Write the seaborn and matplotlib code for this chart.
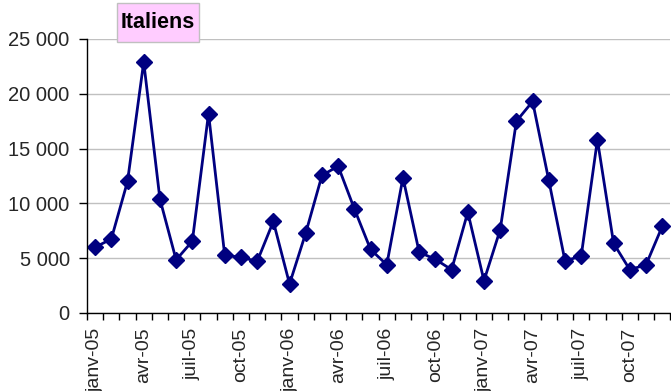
import matplotlib
matplotlib.use("Agg")
import matplotlib.pyplot as plt
import seaborn as sns
import pandas as pd
from matplotlib.patches import Rectangle
from matplotlib.ticker import FixedLocator, FuncFormatter

months = ["janv", "févr", "mars", "avr", "mai", "juin",
          "juil", "août", "sept", "oct", "nov", "déc"]
years = ["05", "06", "07"]
month_labels = [f"{m}-{y}" for y in years for m in months]

values = [6000, 6750, 12000, 22900, 10400, 4850, 6550, 18200, 5250, 5100, 4700, 8350,
          2650, 7300, 12550, 13400, 9500, 5800, 4400, 12350, 5550, 4900, 3950, 9200,
          2950, 7600, 17500, 19300, 12100, 4750, 5200, 15800, 6350, 3950, 4400, 7900]

title = "Italiens"
y_ticks = [0, 5000, 10000, 15000, 20000, 25000]

df = pd.DataFrame({"idx": range(len(values)), "mois": month_labels, "valeur": values})

sns.set_theme(style="white")
plt.rcParams["font.family"] = ["Liberation Sans", "DejaVu Sans"]

fig = plt.figure(figsize=(6.71, 3.91), dpi=100)
ax = fig.add_axes([87 / 671, 1 - 313 / 391, 1 - 87 / 671 - 0.001, (313 - 39) / 391])

sns.lineplot(data=df, x="idx", y="valeur", ax=ax, color="#000080", linewidth=2,
             marker="D", markersize=8, markeredgecolor="#000080", markeredgewidth=1,
             legend=False)

ax.set_xlim(-0.5, len(values) - 0.5)
ax.set_ylim(0, 25000)
ax.set_xlabel("")
ax.set_ylabel("")

ax.yaxis.set_major_locator(FixedLocator(y_ticks))
ax.yaxis.set_major_formatter(FuncFormatter(lambda v, p: f"{int(v):,}".replace(",", " ")))
ax.grid(axis="y", color="#C0C0C0", linewidth=1)
ax.grid(axis="x", visible=False)
ax.set_axisbelow(True)

major = list(range(0, len(values), 3))
ax.set_xticks(major)
ax.set_xticklabels([month_labels[i] for i in major], rotation=90, fontsize=14)
ax.set_xticks([i - 0.5 for i in range(len(values) + 1)], minor=True)
ax.tick_params(axis="x", which="major", length=0, pad=10.5)
ax.tick_params(axis="x", which="minor", length=5, width=1, color="black", direction="out", bottom=True)
ax.tick_params(axis="y", which="major", length=6, width=1, color="black", direction="out",
               left=True, labelsize=14.5, pad=6.5)

for s in ["top", "right"]:
    ax.spines[s].set_visible(False)
for s in ["left", "bottom"]:
    ax.spines[s].set_color("black")
    ax.spines[s].set_linewidth(1)

fig.patches.append(Rectangle((117 / 671, 1 - 42 / 391), 82 / 671, 39 / 391,
                             transform=fig.transFigure, facecolor="#FFCCFF",
                             edgecolor="#C0C0C0", linewidth=1, zorder=5))
fig.text(158 / 671, 1 - 22 / 391, title, ha="center", va="center",
         fontsize=15.5, fontweight="bold", color="black", zorder=6)

fig.savefig("out.png", dpi=100, facecolor="white")
